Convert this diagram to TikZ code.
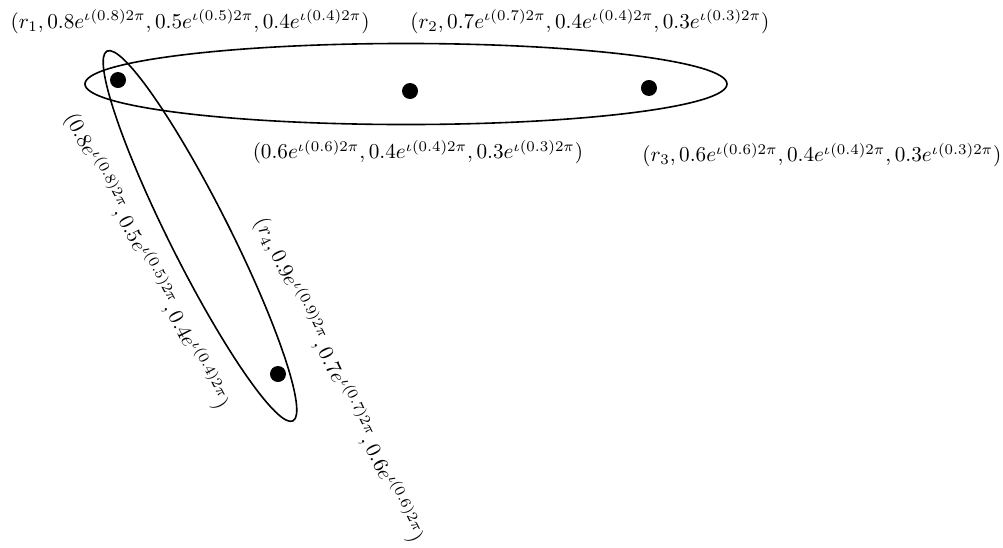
\documentclass[tikz,border=0pt]{standalone}
\begin{document}
\begin{tikzpicture}[
        vertex/.style={circle, fill=black, minimum size=8pt, inner sep=0pt},
        hyperedge/.style={thick},
        weight/.style={inner sep=1pt, scale=1.06}
      ]
      \useasboundingbox (0,0) rectangle (17.625,-9.612);
      \node[vertex] (r1) at (2.074,-1.406) {};
      \node[vertex] (r2) at (7.205,-1.599) {};
      \node[vertex] (r3) at (11.404,-1.546) {};
      \node[vertex] (r4) at (4.885,-6.572) {};
      \draw[hyperedge] (7.134,-1.476) ellipse [x radius=5.641, y radius=0.712];
      \draw[hyperedge, rotate around={-63.3:(3.514,-4.147)}] (3.514,-4.147) ellipse [x radius=3.637, y radius=0.527];
      \node[weight] (w1) at (3.339,-0.381) {\((r_1,0.8e^{\iota(0.8)2\pi},0.5e^{\iota(0.5)2\pi},0.4e^{\iota(0.4)2\pi})\)};
      \node[weight] (w2) at (10.367,-0.381) {\((r_2,0.7e^{\iota(0.7)2\pi},0.4e^{\iota(0.4)2\pi},0.3e^{\iota(0.3)2\pi})\)};
      \node[weight] (e1) at (7.345,-2.671) {\((0.6e^{\iota(0.6)2\pi},0.4e^{\iota(0.4)2\pi},0.3e^{\iota(0.3)2\pi})\)};
      \node[weight] (w3) at (14.444,-2.724) {\((r_3,0.6e^{\iota(0.6)2\pi},0.4e^{\iota(0.4)2\pi},0.3e^{\iota(0.3)2\pi})\)};
      \node[weight, rotate=-62.5] (e2) at (2.58,-4.58) {\((0.8e^{\iota(0.8)2\pi},0.5e^{\iota(0.5)2\pi},0.4e^{\iota(0.4)2\pi})\)};
      \node[weight, rotate=-64] (w4) at (5.96,-6.677) {\((r_4,0.9e^{\iota(0.9)2\pi},0.7e^{\iota(0.7)2\pi},0.6e^{\iota(0.6)2\pi})\)};
    \end{tikzpicture}
\end{document}
